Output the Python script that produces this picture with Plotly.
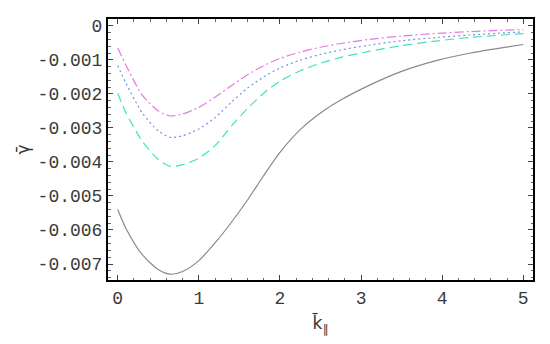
import plotly.graph_objects as go

k = [0, 0.1, 0.3, 0.5, 0.65, 0.8, 1.0, 1.2, 1.4, 1.6, 1.8, 2.0, 2.25, 2.5, 2.75, 3.1, 3.5, 3.95, 4.35, 4.75, 5]
gamma_solid = [-0.0054, -0.00595, -0.00672, -0.00716, -0.0073, -0.00722, -0.0069, -0.00638, -0.00578,
               -0.00512, -0.00440, -0.00372, -0.00305, -0.00256, -0.00218, -0.00175, -0.00134,
               -0.00101, -0.00080, -0.00064, -0.00055]
gamma_dashdot = [-0.00065, -0.00115, -0.00203, -0.0025, -0.00265, -0.00259, -0.0024, -0.0021, -0.00176,
                 -0.00144, -0.00117, -0.00096, -0.00077, -0.00063, -0.00052, -0.00040, -0.00030,
                 -0.00022, -0.00017, -0.00013, -0.00011]
gamma_dotted = [-0.00117, -0.00168, -0.00255, -0.00309, -0.00328, -0.00323, -0.00303, -0.0027, -0.00225,
                -0.00183, -0.0015, -0.00124, -0.00101, -0.00084, -0.00071, -0.00057, -0.00044,
                -0.00034, -0.00027, -0.00021, -0.00018]
gamma_dashed = [-0.00198, -0.00255, -0.00338, -0.00393, -0.00413, -0.00408, -0.00389, -0.00352, -0.00295,
                -0.00243, -0.00198, -0.00163, -0.00132, -0.0011, -0.00093, -0.00075, -0.00058,
                -0.00044, -0.00034, -0.00027, -0.00023]

x_ticks = [0, 1, 2, 3, 4, 5]
x_ticktext = ["0", "1", "2", "3", "4", "5"]
y_ticks = [0, -0.001, -0.002, -0.003, -0.004, -0.005, -0.006, -0.007]
y_ticktext = ["0", "-0.001", "-0.002", "-0.003", "-0.004", "-0.005", "-0.006", "-0.007"]

fig = go.Figure()
series = [
    (gamma_solid, "#8a8a8a", "solid"),
    (gamma_dashed, "#3ee6b4", "9px,5px"),
    (gamma_dotted, "#7a90e6", "2px,3px"),
    (gamma_dashdot, "#e57ae6", "9px,3px,2px,3px"),
]
for ys, col, dash in series:
    fig.add_trace(go.Scatter(x=k, y=ys, mode="lines",
                             line=dict(color=col, width=1.2, dash=dash, shape="spline", smoothing=0.7),
                             showlegend=False, hoverinfo="skip"))

tickfont = dict(family="Liberation Mono, Courier New, monospace", size=18, color="#3a3a3a")
fig.update_layout(
    width=550, height=344,
    margin=dict(l=100, r=25, t=9, b=72),
    paper_bgcolor="white", plot_bgcolor="white",
    xaxis=dict(range=[-0.12, 5.12], tickvals=x_ticks, ticktext=x_ticktext,
               showgrid=False, zeroline=False, showline=True, linecolor="black", linewidth=2,
               mirror="ticks", ticks="inside", ticklen=5, tickcolor="#444", tickwidth=1,
               minor=dict(ticks="inside", ticklen=2.5, dtick=0.2, tickcolor="#666", showgrid=False),
               tickfont=tickfont,
               title=dict(text="k̄<sub>∥</sub>", font=dict(family="DejaVu Sans", size=17, color="#333"),
                          standoff=10)),
    yaxis=dict(range=[-0.00747, 0.0002], tickvals=y_ticks, ticktext=y_ticktext,
               showgrid=False, zeroline=False, showline=True, linecolor="black", linewidth=2,
               mirror="ticks", ticks="inside", ticklen=5, tickcolor="#444", tickwidth=1,
               minor=dict(ticks="inside", ticklen=2.5, dtick=0.0002, tickcolor="#666", showgrid=False),
               tickfont=tickfont,
               title=dict(text="γ̄", font=dict(family="DejaVu Sans", size=17, color="#333"),
                          standoff=4)),
)
fig.write_html("out.html")
